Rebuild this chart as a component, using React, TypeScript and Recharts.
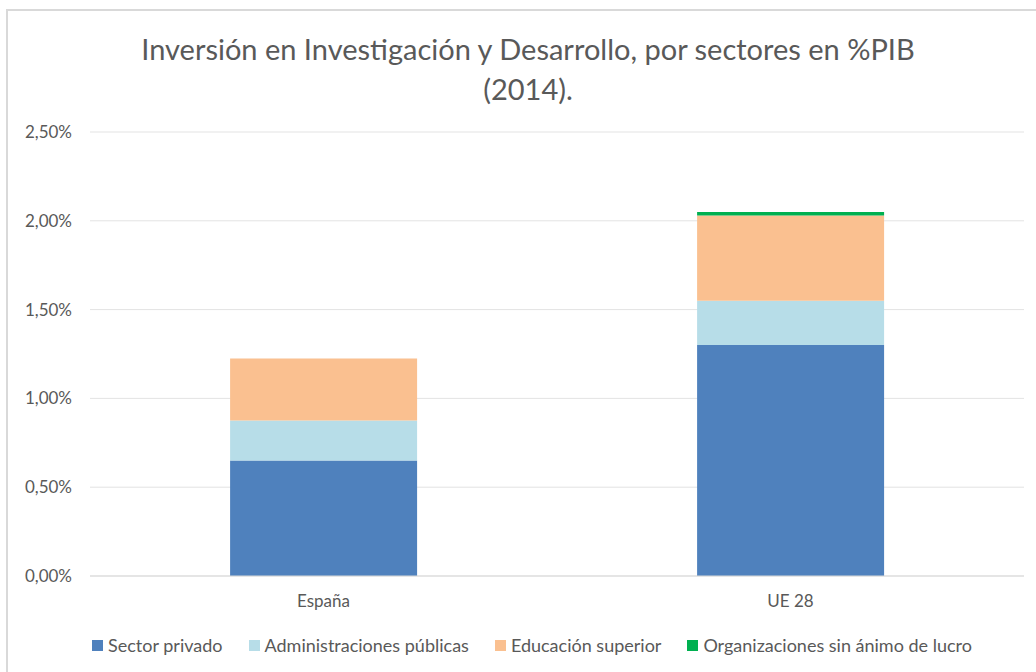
import React from "react";
import { BarChart, Bar, XAxis, YAxis, CartesianGrid } from "recharts";

const categories = ["España", "UE 28"];
const sectorPrivado = [0.65, 1.3];
const adminPublicas = [0.225, 0.25];
const educacionSuperior = [0.35, 0.48];
const sinAnimoLucro = [0, 0.02];
const yTicks = [0, 0.5, 1, 1.5, 2, 2.5];

const series = [
  { key: "privado", name: "Sector privado", color: "#4F81BD" },
  { key: "publicas", name: "Administraciones públicas", color: "#B7DDE8" },
  { key: "superior", name: "Educación superior", color: "#FAC090" },
  { key: "lucro", name: "Organizaciones sin ánimo de lucro", color: "#00B050" },
];

const data = categories.map((c, i) => ({
  name: c,
  privado: sectorPrivado[i],
  publicas: adminPublicas[i],
  superior: educacionSuperior[i],
  lucro: sinAnimoLucro[i],
}));

const FONT = "Lato, 'Noto Sans', sans-serif";
const GREY = "#595959";

const fmt = (v: number) => v.toFixed(2).replace(".", ",") + "%";

const LegendRow = () => (
  <div style={{ display: "flex", justifyContent: "center", fontFamily: FONT, fontSize: 18, color: GREY }}>
    {series.map((s, i) => (
      <div key={s.key} style={{ display: "flex", alignItems: "center", marginRight: i < series.length - 1 ? 26 : 0 }}>
        <span style={{ width: 11, height: 11, background: s.color, marginRight: 5, display: "inline-block" }} />
        <span>{s.name}</span>
      </div>
    ))}
  </div>
);

export default function App() {
  return (
    <div style={{ position: "absolute", left: 0, top: 0, width: 1036, height: 672, background: "#fff", overflow: "hidden" }}>
      <div
        style={{
          position: "absolute",
          left: 6,
          top: 9,
          width: 1100,
          height: 700,
          borderLeft: "2px solid #d9d9d9",
          borderTop: "2px solid #d9d9d9",
        }}
      />
      <div
        style={{
          position: "absolute",
          top: 29,
          left: 0,
          width: 1056,
          textAlign: "center",
          fontFamily: FONT,
          fontSize: 29,
          lineHeight: "40px",
          color: GREY,
        }}
      >
        Inversión en Investigación y Desarrollo, por sectores en %PIB
        <br />
        (2014).
      </div>
      <div style={{ position: "absolute", left: 0, top: 0 }}>
        <BarChart
          width={1036}
          height={672}
          data={data}
          barCategoryGap="30%"
          margin={{ top: 132, right: 12, left: 10, bottom: 66 }}
        >
          <CartesianGrid vertical={false} stroke="#e3e3e3" />
          <XAxis
            dataKey="name"
            height={30}
            tickLine={false}
            tickSize={0}
            tickMargin={19}
            axisLine={{ stroke: "#d9d9d9" }}
            tick={{ fill: GREY, fontSize: 17, fontFamily: FONT }}
          />
          <YAxis
            width={80}
            domain={[0, 2.5]}
            ticks={yTicks}
            tickFormatter={fmt}
            axisLine={false}
            tickLine={false}
            tickSize={0}
            tickMargin={18}
            tick={{ fill: GREY, fontSize: 17, fontFamily: FONT }}
          />
          {series.map((s) => (
            <Bar key={s.key} dataKey={s.key} name={s.name} stackId="a" fill={s.color} isAnimationActive={false} />
          ))}
        </BarChart>
      </div>
      <div style={{ position: "absolute", top: 634, left: 0, width: 1064 }}>
        <LegendRow />
      </div>
    </div>
  );
}
